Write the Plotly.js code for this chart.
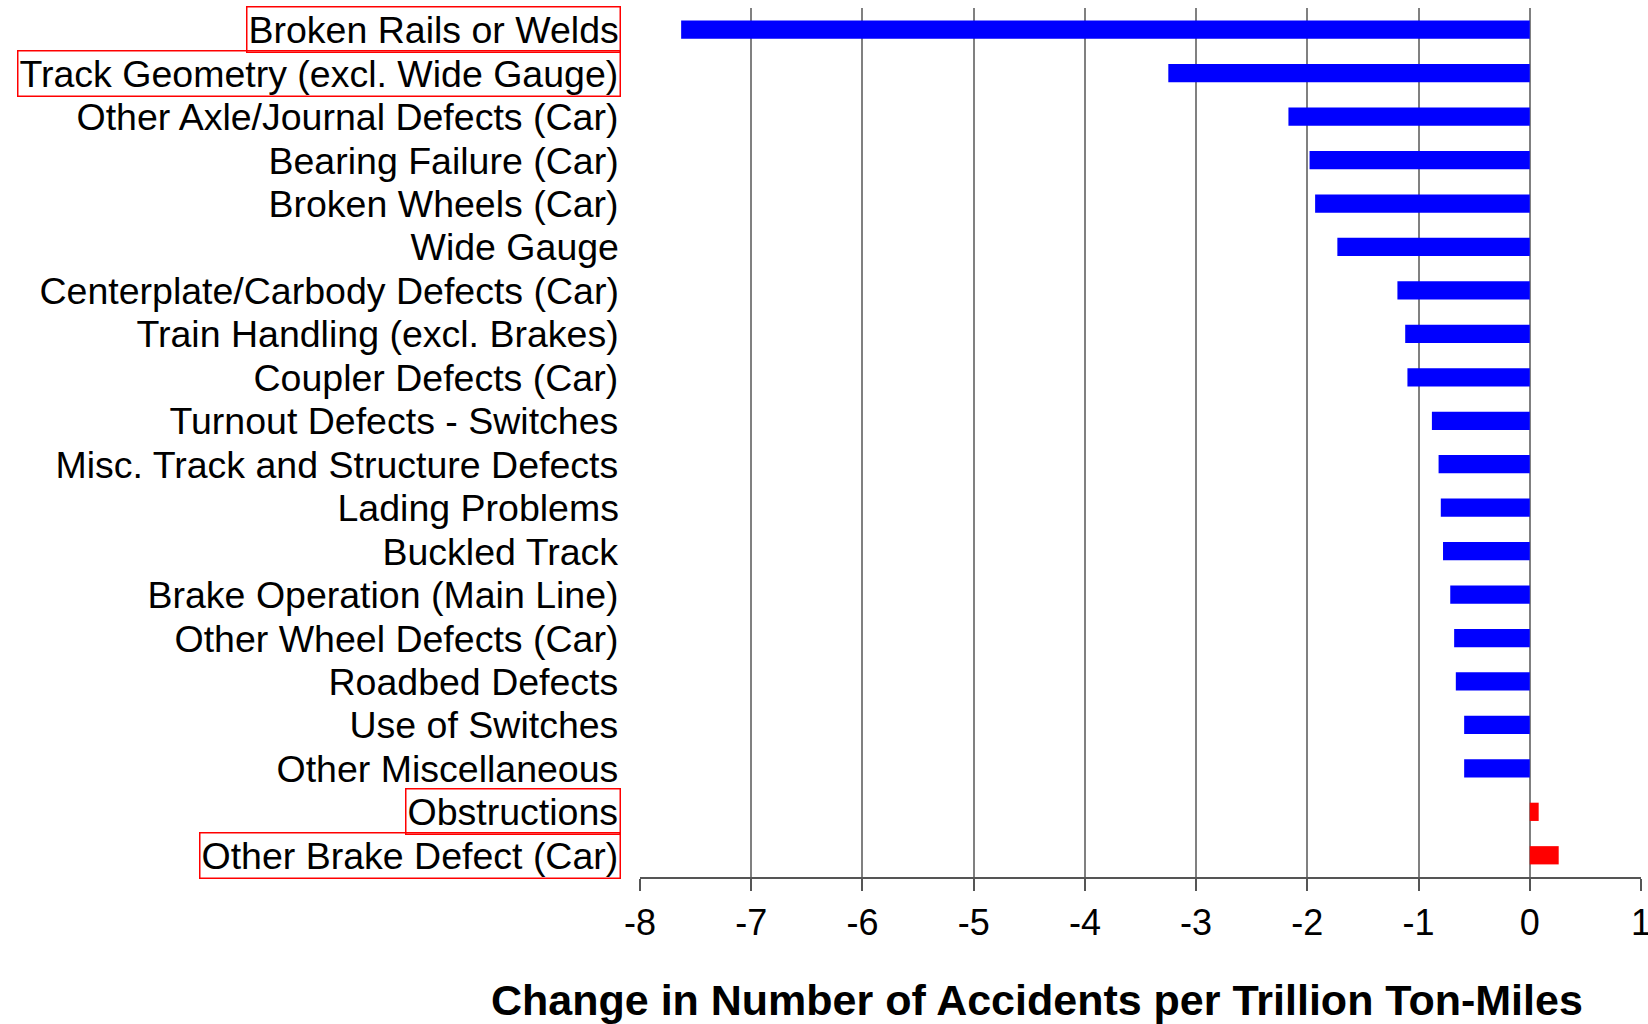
<!DOCTYPE html>
<html>
<head>
<meta charset="utf-8">
<script src="https://cdn.plot.ly/plotly-3.0.1.min.js"></script>
<style>
  html, body { margin: 0; padding: 0; background: #fff; }
  #chart { width: 1648px; height: 1024px; }
</style>
</head>
<body>
<div id="chart"></div>
<script>
// accident causes, top to bottom
let causes = [
  "Broken Rails or Welds",
  "Track Geometry (excl. Wide Gauge)",
  "Other Axle/Journal Defects (Car)",
  "Bearing Failure (Car)",
  "Broken Wheels (Car)",
  "Wide Gauge",
  "Centerplate/Carbody Defects (Car)",
  "Train Handling (excl. Brakes)",
  "Coupler Defects (Car)",
  "Turnout Defects - Switches",
  "Misc. Track and Structure Defects",
  "Lading Problems",
  "Buckled Track",
  "Brake Operation (Main Line)",
  "Other Wheel Defects (Car)",
  "Roadbed Defects",
  "Use of Switches",
  "Other Miscellaneous",
  "Obstructions",
  "Other Brake Defect (Car)"
];

// change in accidents per trillion ton-miles
let change = [
  -7.63, -3.25, -2.17, -1.98, -1.93, -1.73, -1.19, -1.12, -1.10, -0.88,
  -0.82, -0.80, -0.78, -0.715, -0.68, -0.665, -0.59, -0.59, 0.08, 0.26
];

// labels boxed in red
let boxed = [
  "Broken Rails or Welds",
  "Track Geometry (excl. Wide Gauge)",
  "Obstructions",
  "Other Brake Defect (Car)"
];

let xTicks = [-8, -7, -6, -5, -4, -3, -2, -1, 0, 1];

let font = "Liberation Sans, Arial, Helvetica, sans-serif";

// bars
let trace1 = {
  type: "bar",
  orientation: "h",
  y: causes,
  x: change,
  marker: { color: change.map(v => v > 0 ? "#ff0000" : "#0000ff") },
  hoverinfo: "x+y"
};

// category labels as annotations so some can get a red box
let labels = causes.map(c => ({
  xref: "paper",
  yref: "y",
  x: -0.0185,
  y: c,
  xanchor: "right",
  yanchor: "middle",
  text: c,
  showarrow: false,
  font: { family: font, size: 37.5, color: "#000" },
  bordercolor: boxed.includes(c) ? "#ff0000" : "rgba(0,0,0,0)",
  borderwidth: 1.5,
  borderpad: 1
}));

// x axis title, sits left of the plot centre like the original
labels.push({
  xref: "paper",
  yref: "paper",
  x: 0.397,
  y: -0.142,
  xanchor: "center",
  yanchor: "middle",
  text: "<b>Change in Number of Accidents per Trillion Ton-Miles</b>",
  showarrow: false,
  font: { family: font, size: 43, color: "#000" }
});

let layout = {
  width: 1648,
  height: 1024,
  margin: { l: 640, r: 7, t: 8, b: 147 },
  paper_bgcolor: "#fff",
  plot_bgcolor: "#fff",
  showlegend: false,
  bargap: 0.58,
  font: { family: font, size: 36, color: "#000" },
  xaxis: {
    range: [-8, 1],
    tickvals: xTicks,
    ticktext: xTicks.map(String),
    showgrid: true,
    gridcolor: "#808080",
    gridwidth: 1.5,
    zeroline: false,
    showline: true,
    linecolor: "#555",
    linewidth: 1.5,
    ticks: "outside",
    ticklen: 12,
    tickwidth: 1.5,
    tickcolor: "#555",
    ticklabelstandoff: 1,
    ticklabeloverflow: "allow",
    tickfont: { family: font, size: 36, color: "#000" }
  },
  yaxis: {
    type: "category",
    categoryorder: "array",
    categoryarray: causes,
    range: [causes.length - 0.5, -0.5],
    showticklabels: false,
    ticks: "",
    showgrid: false,
    showline: false,
    zeroline: false
  },
  // tick marks drawn on the zero line, between the bars
  yaxis2: {
    type: "category",
    categoryorder: "array",
    categoryarray: causes,
    range: [causes.length - 0.5, -0.5],
    overlaying: "y",
    anchor: "free",
    position: 8 / 9,
    side: "left",
    tickson: "boundaries",
    ticks: "outside",
    ticklen: 12,
    tickwidth: 1.5,
    tickcolor: "#333",
    showticklabels: false,
    showgrid: false,
    showline: true,
    linecolor: "#808080",
    linewidth: 1.5,
    zeroline: false
  },
  annotations: labels
};

Plotly.newPlot("chart", [trace1], layout, { displayModeBar: false, responsive: false });
</script>
</body>
</html>
